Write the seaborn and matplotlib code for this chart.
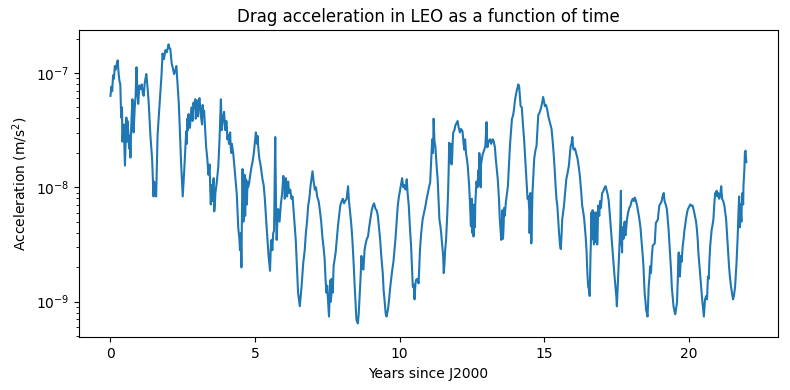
# Drag acceleration in LEO vs time

import numpy as np
import pandas as pd
import seaborn as sns
import matplotlib.pyplot as plt

# years since J2000
years = [
    0.00, 0.03, 0.06, 0.09, 0.12, 0.15, 0.18, 0.22, 0.25, 0.28,
    0.31, 0.34, 0.37, 0.40, 0.43, 0.46, 0.50, 0.53, 0.55, 0.58,
    0.61, 0.64, 0.67, 0.69, 0.72, 0.76, 0.80, 0.84, 0.87, 0.90,
    0.93, 0.96, 1.00, 1.04, 1.08, 1.12, 1.15, 1.18, 1.21, 1.24,
    1.28, 1.32, 1.38, 1.44, 1.49, 1.53, 1.58, 1.63, 1.70, 1.74,
    1.77, 1.80, 1.85, 1.90, 1.95, 2.01, 2.04, 2.07, 2.12, 2.16,
    2.20, 2.24, 2.28, 2.32, 2.36, 2.39, 2.44, 2.50, 2.55, 2.62,
    2.66, 2.70, 2.75, 2.81, 2.87, 2.93, 2.97, 3.01, 3.05, 3.10,
    3.14, 3.19, 3.24, 3.31, 3.35, 3.39, 3.43, 3.47, 3.50, 3.54,
    3.59, 3.63, 3.68, 3.73, 3.77, 3.82, 3.85, 3.89, 3.93, 3.97,
    4.01, 4.04, 4.08, 4.12, 4.16, 4.20, 4.25, 4.31, 4.37, 4.42,
    4.46, 4.48, 4.51, 4.53, 4.57, 4.60, 4.64, 4.67, 4.69, 4.72,
    4.76, 4.80, 4.83, 4.88, 4.92, 4.96, 5.00, 5.03, 5.07, 5.11,
    5.15, 5.19, 5.26, 5.30, 5.34, 5.40, 5.47, 5.52, 5.55, 5.57,
    5.60, 5.63, 5.66, 5.70, 5.73, 5.75, 5.78, 5.80, 5.85, 5.89,
    5.94, 5.98, 6.02, 6.05, 6.09, 6.13, 6.18, 6.22, 6.26, 6.30,
    6.34, 6.41, 6.45, 6.49, 6.55, 6.58, 6.61, 6.67, 6.72, 6.76,
    6.80, 6.84, 6.88, 6.92, 6.99, 7.03, 7.07, 7.11, 7.15, 7.20,
    7.24, 7.29, 7.33, 7.37, 7.41, 7.44, 7.47, 7.50, 7.53, 7.56,
    7.59, 7.61, 7.64, 7.67, 7.69, 7.72, 7.76, 7.79, 7.83, 7.87,
    7.91, 7.95, 8.00, 8.04, 8.08, 8.12, 8.17, 8.22, 8.25, 8.28,
    8.33, 8.37, 8.41, 8.45, 8.51, 8.56, 8.59, 8.62, 8.66, 8.68,
    8.72, 8.75, 8.79, 8.83, 8.87, 8.91, 8.95, 8.99, 9.04, 9.08,
    9.12, 9.17, 9.21, 9.25, 9.29, 9.33, 9.37, 9.42, 9.45, 9.48,
    9.52, 9.55, 9.60, 9.64, 9.68, 9.75, 9.79, 9.83, 9.86, 9.89,
    9.94, 9.98, 10.02, 10.06, 10.09, 10.13, 10.17, 10.21, 10.25, 10.28,
    10.32, 10.36, 10.40, 10.43, 10.46, 10.49, 10.52, 10.55, 10.57, 10.62,
    10.66, 10.71, 10.75, 10.80, 10.85, 10.90, 10.94, 10.98, 11.02, 11.06,
    11.10, 11.13, 11.16, 11.18, 11.21, 11.24, 11.28, 11.32, 11.35, 11.38,
    11.42, 11.47, 11.51, 11.55, 11.58, 11.61, 11.65, 11.68, 11.70, 11.72,
    11.76, 11.79, 11.82, 11.84, 11.86, 11.90, 11.93, 11.97, 12.01, 12.05,
    12.09, 12.13, 12.18, 12.21, 12.24, 12.27, 12.30, 12.33, 12.36, 12.41,
    12.44, 12.47, 12.50, 12.53, 12.56, 12.59, 12.62, 12.66, 12.70, 12.73,
    12.76, 12.79, 12.82, 12.87, 12.92, 12.97, 13.01, 13.04, 13.08, 13.13,
    13.17, 13.22, 13.26, 13.30, 13.33, 13.37, 13.40, 13.44, 13.47, 13.52,
    13.56, 13.60, 13.64, 13.68, 13.72, 13.75, 13.79, 13.82, 13.86, 13.89,
    13.92, 13.95, 13.99, 14.02, 14.06, 14.11, 14.14, 14.19, 14.23, 14.27,
    14.31, 14.35, 14.39, 14.43, 14.46, 14.49, 14.51, 14.54, 14.56, 14.60,
    14.63, 14.66, 14.70, 14.74, 14.77, 14.80, 14.84, 14.88, 14.92, 14.97,
    15.00, 15.03, 15.07, 15.11, 15.15, 15.20, 15.26, 15.30, 15.34, 15.37,
    15.40, 15.43, 15.46, 15.49, 15.52, 15.55, 15.58, 15.61, 15.63, 15.66,
    15.69, 15.73, 15.77, 15.81, 15.86, 15.89, 15.92, 15.95, 15.98, 16.01,
    16.03, 16.07, 16.11, 16.16, 16.20, 16.24, 16.28, 16.32, 16.36, 16.39,
    16.44, 16.47, 16.49, 16.51, 16.53, 16.56, 16.58, 16.61, 16.64, 16.67,
    16.70, 16.73, 16.76, 16.79, 16.82, 16.84, 16.87, 16.91, 16.94, 16.97,
    17.01, 17.04, 17.07, 17.10, 17.13, 17.17, 17.20, 17.24, 17.27, 17.30,
    17.33, 17.37, 17.41, 17.44, 17.47, 17.50, 17.52, 17.56, 17.59, 17.61,
    17.64, 17.66, 17.68, 17.70, 17.73, 17.77, 17.80, 17.84, 17.87, 17.91,
    17.95, 17.99, 18.03, 18.07, 18.11, 18.14, 18.18, 18.22, 18.26, 18.30,
    18.34, 18.37, 18.41, 18.44, 18.48, 18.51, 18.53, 18.56, 18.58, 18.60,
    18.62, 18.65, 18.67, 18.70, 18.73, 18.76, 18.80, 18.83, 18.87, 18.90,
    18.94, 18.97, 18.99, 19.03, 19.06, 19.10, 19.14, 19.17, 19.21, 19.25,
    19.28, 19.31, 19.34, 19.37, 19.40, 19.42, 19.45, 19.48, 19.51, 19.54,
    19.57, 19.60, 19.63, 19.66, 19.68, 19.70, 19.73, 19.76, 19.80, 19.83,
    19.86, 19.89, 19.91, 19.95, 19.98, 20.02, 20.06, 20.10, 20.14, 20.18,
    20.22, 20.26, 20.29, 20.32, 20.34, 20.37, 20.40, 20.43, 20.46, 20.50,
    20.53, 20.55, 20.57, 20.61, 20.64, 20.67, 20.70, 20.72, 20.75, 20.78,
    20.80, 20.83, 20.86, 20.89, 20.92, 20.95, 20.97, 21.00, 21.03, 21.06,
    21.10, 21.13, 21.16, 21.20, 21.24, 21.27, 21.30, 21.33, 21.36, 21.40,
    21.43, 21.47, 21.50, 21.54, 21.57, 21.61, 21.64, 21.66, 21.68, 21.70,
    21.73, 21.75, 21.78, 21.81, 21.84, 21.87, 21.90, 21.93, 21.95, 21.97, 22.00,
]

# log10 of acceleration in m/s^2
log_accel = [
    -7.20, -7.12, -7.16, -7.02, -7.05, -6.94, -6.97, -6.92, -6.89, -7.00,
    -7.07, -7.10, -7.39, -7.30, -7.54, -7.45, -7.81, -7.55, -7.39, -7.60,
    -7.50, -7.66, -7.55, -7.74, -7.45, -7.23, -7.52, -7.30, -7.20, -6.95,
    -7.15, -7.27, -7.11, -7.14, -7.10, -7.18, -7.20, -7.10, -7.05, -7.01,
    -7.12, -7.25, -7.54, -7.75, -8.08, -8.02, -8.08, -7.54, -7.27, -7.11,
    -7.00, -6.83, -6.88, -6.80, -6.82, -6.75, -6.78, -6.79, -6.92, -6.96,
    -7.01, -6.98, -6.94, -7.10, -7.25, -7.43, -7.77, -8.08, -7.86, -7.51,
    -7.40, -7.36, -7.48, -7.30, -7.26, -7.23, -7.35, -7.32, -7.25, -7.29,
    -7.40, -7.28, -7.33, -7.65, -7.75, -7.89, -7.80, -8.15, -7.98, -8.00,
    -8.21, -8.05, -7.95, -7.82, -7.60, -7.23, -7.50, -7.40, -7.34, -7.50,
    -7.42, -7.58, -7.54, -7.58, -7.65, -7.62, -7.71, -7.89, -8.06, -8.35,
    -8.45, -8.55, -8.40, -8.70, -7.84, -8.30, -7.89, -8.10, -7.93, -8.15,
    -8.00, -7.96, -7.90, -7.82, -7.77, -7.70, -7.60, -7.52, -7.62, -7.64,
    -7.75, -7.80, -7.93, -7.98, -8.10, -8.34, -8.60, -8.73, -8.50, -8.46,
    -8.55, -8.40, -8.38, -7.56, -8.20, -8.46, -8.25, -8.19, -8.30, -8.16,
    -8.05, -7.90, -7.98, -7.95, -8.02, -7.98, -8.05, -8.02, -8.10, -8.08,
    -8.22, -8.46, -8.70, -8.92, -9.04, -8.95, -8.87, -8.66, -8.55, -8.40,
    -8.30, -8.16, -8.10, -7.99, -7.86, -7.95, -8.02, -8.00, -8.08, -8.12,
    -8.19, -8.30, -8.43, -8.52, -8.63, -8.80, -8.92, -8.86, -9.00, -9.13,
    -8.90, -8.81, -8.95, -8.85, -8.92, -8.69, -8.62, -8.57, -8.45, -8.34,
    -8.25, -8.16, -8.12, -8.10, -8.14, -8.12, -8.10, -7.99, -8.12, -8.19,
    -8.32, -8.46, -8.65, -8.87, -9.16, -9.19, -9.10, -8.95, -8.75, -8.60,
    -8.70, -8.72, -8.55, -8.49, -8.45, -8.43, -8.35, -8.28, -8.20, -8.16,
    -8.14, -8.19, -8.20, -8.25, -8.35, -8.46, -8.60, -8.75, -8.90, -8.98,
    -9.10, -9.13, -9.07, -8.98, -8.87, -8.72, -8.65, -8.54, -8.45, -8.34,
    -8.16, -8.08, -8.02, -7.96, -7.92, -8.00, -7.98, -8.02, -7.93, -8.05,
    -8.16, -8.35, -8.51, -8.70, -8.87, -8.85, -8.98, -8.85, -8.81, -8.80,
    -8.84, -8.54, -8.40, -8.28, -8.22, -8.16, -8.10, -8.05, -8.00, -7.96,
    -7.75, -7.58, -7.70, -7.40, -7.60, -7.64, -7.80, -7.93, -8.10, -8.28,
    -8.35, -8.49, -8.60, -8.69, -8.55, -8.46, -8.25, -8.05, -7.85, -7.61,
    -7.72, -7.65, -7.75, -7.60, -7.52, -7.50, -7.46, -7.44, -7.42, -7.48,
    -7.52, -7.49, -7.51, -7.60, -7.67, -7.58, -7.70, -7.75, -7.81, -7.99,
    -8.15, -8.34, -8.10, -8.30, -8.43, -8.25, -8.16, -7.95, -8.00, -7.85,
    -7.70, -7.95, -7.80, -7.72, -7.68, -7.64, -7.43, -7.65, -7.60, -7.58,
    -7.62, -7.58, -7.60, -7.65, -7.75, -7.85, -7.93, -8.10, -8.28, -8.46,
    -8.20, -8.35, -8.25, -8.13, -8.05, -7.99, -7.80, -7.64, -7.50, -7.40,
    -7.38, -7.34, -7.25, -7.20, -7.15, -7.10, -7.12, -7.29, -7.30, -7.45,
    -7.58, -7.75, -7.93, -8.10, -8.08, -8.20, -8.28, -8.10, -8.49, -8.05,
    -7.90, -7.75, -7.68, -7.64, -7.50, -7.37, -7.35, -7.32, -7.28, -7.21,
    -7.25, -7.29, -7.28, -7.32, -7.38, -7.43, -7.49, -7.60, -7.73, -7.85,
    -7.99, -8.10, -8.16, -8.28, -8.40, -8.50, -8.54, -8.40, -8.28, -8.22,
    -8.16, -8.05, -7.93, -7.88, -7.81, -7.72, -7.64, -7.62, -7.56, -7.66,
    -7.67, -7.66, -7.70, -7.75, -7.82, -7.90, -8.02, -8.16, -8.22, -8.28,
    -8.43, -8.55, -8.69, -8.80, -8.87, -8.90, -8.95, -8.57, -8.22, -8.45,
    -8.30, -8.50, -8.22, -8.40, -8.30, -8.50, -8.16, -8.25, -8.12, -8.18,
    -8.05, -8.04, -8.02, -8.00, -7.99, -8.03, -8.06, -8.12, -8.22, -8.32,
    -8.43, -8.55, -8.69, -8.78, -8.87, -8.95, -9.04, -8.81, -8.65, -8.51,
    -8.30, -8.03, -8.40, -8.57, -8.40, -8.34, -8.40, -8.36, -8.28, -8.22,
    -8.18, -8.16, -8.12, -8.10, -8.12, -8.09, -8.12, -8.16, -8.22, -8.28,
    -8.36, -8.46, -8.58, -8.69, -8.92, -9.00, -9.07, -9.10, -9.13, -9.02,
    -8.87, -8.78, -8.69, -8.75, -8.60, -8.51, -8.50, -8.49, -8.31, -8.30,
    -8.28, -8.20, -8.16, -8.14, -8.13, -8.08, -8.05, -8.12, -8.15, -8.19,
    -8.28, -8.37, -8.50, -8.63, -8.75, -8.87, -8.95, -9.04, -9.08, -9.11,
    -9.06, -9.01, -8.80, -8.57, -8.70, -8.78, -8.60, -8.65, -8.51, -8.45,
    -8.37, -8.32, -8.28, -8.22, -8.19, -8.17, -8.15, -8.16, -8.16, -8.20,
    -8.25, -8.30, -8.37, -8.47, -8.57, -8.66, -8.75, -8.85, -8.95, -9.05,
    -9.13, -9.05, -8.98, -8.95, -8.98, -8.78, -8.80, -8.65, -8.51, -8.42,
    -8.37, -8.33, -8.28, -8.15, -8.05, -8.07, -8.03, -8.08, -8.05, -8.10,
    -8.06, -7.99, -8.10, -8.12, -8.16, -8.22, -8.28, -8.40, -8.51, -8.69,
    -8.78, -8.87, -8.92, -8.98, -8.95, -8.87, -8.75, -8.66, -8.55, -8.43,
    -8.20, -8.08, -8.35, -8.22, -8.16, -8.08, -7.99, -7.85, -7.70, -7.68, -7.78,
]

# extra short-term wiggles read in the noisiest stretches
wiggle_years = [
    0.41, 0.48, 0.59, 0.63, 1.51, 1.56,
    2.64, 2.68, 2.72, 2.78, 2.84, 2.90, 2.95, 2.99, 3.03, 3.08, 3.12, 3.17, 3.21,
    3.45, 3.52, 3.57, 3.61,
    4.03, 4.10, 4.14, 4.18, 4.55, 4.62, 4.66, 4.74, 5.05, 5.09,
    6.03, 6.07, 6.11, 6.15, 7.51, 7.62, 7.65,
    11.44, 11.53, 11.74, 11.77, 11.80,
    12.48, 12.52, 12.55, 12.61, 12.64, 12.74, 12.78, 12.81,
    13.54, 13.58, 13.62, 14.50, 14.53, 14.55, 14.58,
    16.62, 16.65, 16.68, 16.71, 16.74, 16.78, 16.81, 16.86, 16.89,
    17.67, 17.71, 17.75, 17.79, 17.82,
    19.67, 19.72, 21.76, 21.79, 21.83, 21.86, 21.89,
]
wiggle_log = [
    -7.60, -7.62, -7.42, -7.55, -7.95, -8.05,
    -7.62, -7.50, -7.45, -7.36, -7.42, -7.30, -7.40, -7.24, -7.38, -7.22, -7.35, -7.45, -7.36,
    -8.00, -8.12, -7.92, -8.15,
    -7.48, -7.62, -7.52, -7.70, -8.20, -8.05, -8.25, -7.95, -7.58, -7.55,
    -8.10, -7.92, -8.08, -7.95, -8.92, -9.00, -8.80,
    -8.40, -8.75, -7.78, -7.62, -7.80,
    -8.20, -8.40, -8.15, -8.35, -8.05, -7.98, -7.75, -8.00,
    -8.35, -8.45, -8.18, -8.40, -8.05, -8.32, -8.25,
    -8.50, -8.30, -8.20, -8.45, -8.28, -8.48, -8.22, -8.35, -8.18,
    -8.50, -8.35, -8.45, -8.30, -8.42,
    -8.75, -8.68, -8.30, -8.15, -8.30, -8.05, -8.15,
]

df = pd.DataFrame({
    'years': years + wiggle_years,
    'accel': 10.0 ** np.array(log_accel + wiggle_log),
})

fig, ax = plt.subplots(figsize=(7.9, 3.9), dpi=100)
sns.lineplot(data=df, x='years', y='accel', ax=ax, color='#1f77b4',
             linewidth=1.5, estimator=None, sort=True)
ax.set_yscale('log')
ax.set_title('Drag acceleration in LEO as a function of time')
ax.set_xlabel('Years since J2000')
ax.set_ylabel('Acceleration (m/s$^2$)')

fig.subplots_adjust(left=0.0996, right=0.985, top=0.922, bottom=0.135)
plt.savefig('out.png')
